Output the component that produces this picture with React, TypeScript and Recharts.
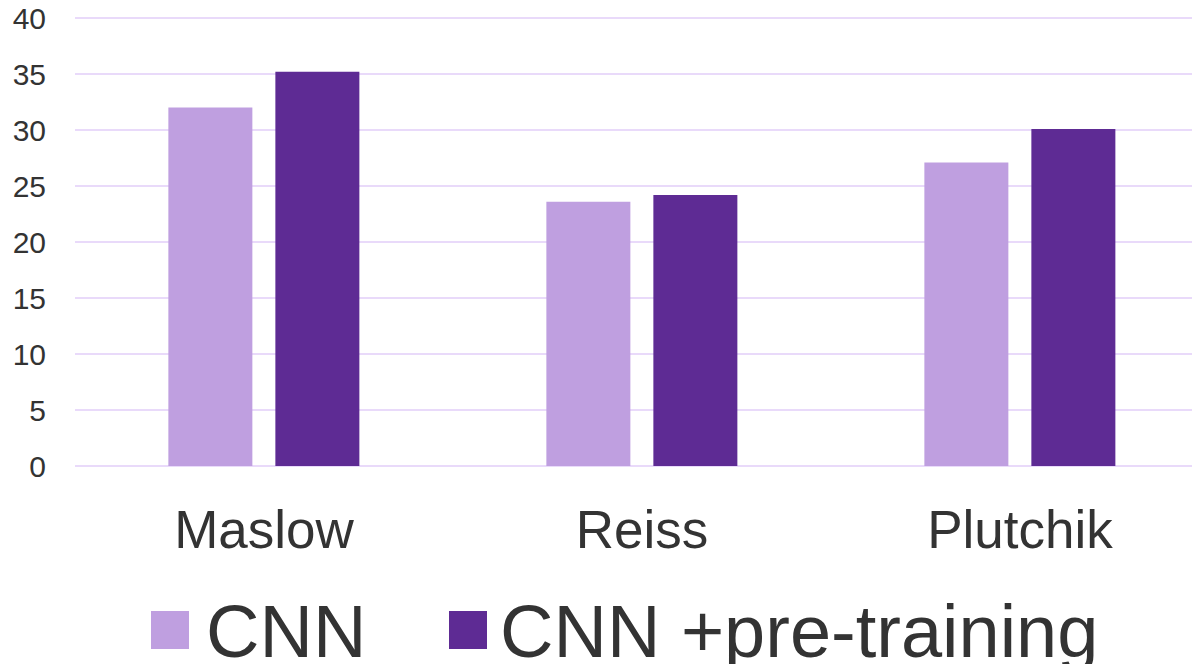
import { BarChart, Bar, XAxis, YAxis, CartesianGrid } from "recharts"

const categories = ["Maslow", "Reiss", "Plutchik"]
const cnnValues = [32.0, 23.6, 27.1]
const pretrainValues = [35.2, 24.2, 30.1]
const yTicks = [0, 5, 10, 15, 20, 25, 30, 35, 40]

const seriesNames = ["CNN", "CNN +pre-training"]
const seriesColors = ["#BF9FE0", "#5E2B94"]

const chartData = categories.map((name, i) => ({
  name,
  cnn: cnnValues[i],
  pretrain: pretrainValues[i],
}))

const font = '"Liberation Sans", Arial, sans-serif'

const legendBoxLeft = [151, 449]
const legendTextLeft = [206, 500]

export default function App() {
  return (
    <div style={{ position: "relative", margin: -8, width: 1200, height: 672, overflow: "hidden", fontFamily: font }}>
      <BarChart
        width={1215}
        height={590}
        data={chartData}
        margin={{ top: 18, right: 6, left: 0, bottom: 44 }}
        barCategoryGap="24.7%"
        barGap={23}
      >
        <CartesianGrid vertical={false} stroke="#E9DAFA" strokeWidth={2} />
        <XAxis
          dataKey="name"
          height={80}
          axisLine={false}
          tickLine={false}
          tickSize={0}
          tickMargin={44}
          tick={{ fontSize: 53, fill: "#333333", fontFamily: font }}
        />
        <YAxis
          width={75}
          domain={[0, 40]}
          ticks={yTicks}
          axisLine={false}
          tickLine={false}
          tickSize={0}
          tickMargin={29}
          tick={{ fontSize: 30, fill: "#333333", fontFamily: font }}
        />
        <Bar dataKey="cnn" name={seriesNames[0]} fill={seriesColors[0]} isAnimationActive={false} />
        <Bar dataKey="pretrain" name={seriesNames[1]} fill={seriesColors[1]} isAnimationActive={false} />
      </BarChart>
      {seriesNames.map((name, i) => (
        <div key={name}>
          <div
            style={{
              position: "absolute",
              left: legendBoxLeft[i],
              top: 611,
              width: 38,
              height: 38,
              background: seriesColors[i],
            }}
          />
          <div
            style={{
              position: "absolute",
              left: legendTextLeft[i],
              top: 595,
              fontSize: 74,
              lineHeight: "74px",
              color: "#333333",
              whiteSpace: "nowrap",
            }}
          >
            {name}
          </div>
        </div>
      ))}
    </div>
  )
}
